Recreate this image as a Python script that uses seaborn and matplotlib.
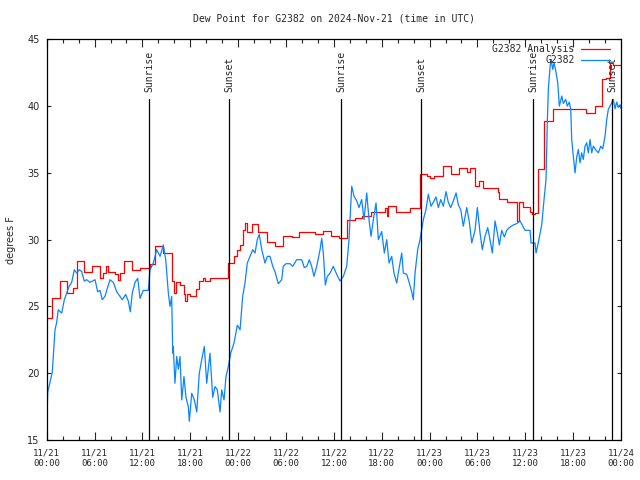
import numpy as np
import pandas as pd
import matplotlib
matplotlib.use("Agg")
import matplotlib.pyplot as plt
import matplotlib.dates as mdates
import seaborn as sns

# hours after 2024-11-21 00:00 UTC, dew point in F
obs_hours = [0.0, 0.13, 0.41, 0.70, 1.04, 1.25, 1.45, 1.88, 2.21, 2.51, 2.80, 3.13, 3.46, 3.76,
             4.09, 4.39, 4.71, 5.01, 5.43, 6.06, 6.39, 6.68, 6.97, 7.31, 7.52, 7.94, 8.35, 8.78,
             9.19, 9.48, 9.90, 10.23, 10.48, 10.73, 11.07, 11.41, 11.70, 12.11, 12.74, 12.95,
             13.37, 13.79, 14.21, 14.62, 14.92, 15.25, 15.46, 15.67, 15.80, 15.87, 16.08, 16.30,
             16.50, 16.71, 16.93, 17.21, 17.46, 17.75, 17.88, 18.18, 18.51, 18.81, 19.13, 19.43,
             19.76, 20.06, 20.47, 20.81, 21.10, 21.39, 21.73, 21.94, 22.23, 22.48, 22.77, 23.07,
             23.48, 23.90, 24.24, 24.57, 24.86, 25.15, 25.49, 25.83, 26.12, 26.40, 26.65, 26.96,
             27.37, 27.66, 28.00, 28.34, 28.62, 29.04, 29.46, 29.66, 30.00, 30.50, 30.84, 31.34,
             31.97, 32.30, 32.60, 32.92, 33.22, 33.51, 33.85, 34.27, 34.48, 34.68, 34.93, 35.18,
             35.52, 35.93, 36.36, 36.77, 37.19, 37.61, 37.90, 38.24, 38.53, 38.87, 39.15, 39.49,
             39.78, 40.12, 40.41, 40.66, 40.95, 41.29, 41.58, 42.00, 42.33, 42.63, 42.92, 43.25,
             43.54, 43.88, 44.08, 44.51, 44.71, 45.14, 45.46, 45.76, 45.96, 46.18, 46.51, 46.80,
             47.22, 47.55, 47.84, 48.18, 48.47, 48.81, 49.10, 49.40, 49.73, 50.06, 50.35, 50.65,
             50.98, 51.32, 51.61, 51.91, 52.23, 52.66, 52.99, 53.29, 53.70, 53.99, 54.33, 54.61,
             54.95, 55.29, 55.58, 55.87, 56.21, 56.50, 56.75, 57.05, 57.37, 57.67, 58.00, 58.50,
             58.93, 59.34, 59.97, 60.60, 60.72, 61.22, 61.35, 61.64, 62.06, 62.35, 62.60, 62.77,
             62.89, 63.10, 63.23, 63.44, 63.61, 63.86, 64.07, 64.27, 64.57, 64.77, 65.07, 65.27,
             65.52, 65.70, 65.82, 66.02, 66.24, 66.45, 66.65, 66.86, 67.07, 67.27, 67.49, 67.70,
             67.90, 68.12, 68.33, 68.53, 68.87, 69.16, 69.46, 69.71, 70.00, 70.21, 70.41, 70.63,
             70.84, 71.04, 71.25, 71.46, 71.67, 71.88, 72.00]
obs_values = [16.3, 18.6, 19.3, 20.1, 23.25, 23.8, 24.75, 24.5, 25.5, 26.0, 26.5, 26.8, 27.75, 27.5,
              27.75, 27.6, 26.9, 27.0, 26.8, 27.0, 26.1, 26.2, 25.5, 25.75, 26.2, 27.0, 26.8, 26.1,
              25.75, 25.5, 25.9, 25.4, 24.6, 26.0, 26.8, 27.1, 25.6, 26.2, 26.2, 27.75,
              28.25, 29.25, 28.75, 29.6, 28.5, 26.0, 25.0, 25.75, 21.5, 22.0, 19.25, 21.25,
              20.3, 21.25, 18.0, 19.75, 18.2, 17.5, 16.4, 18.5, 18.0, 17.1, 20.0, 21.0,
              22.0, 19.25, 21.5, 18.2, 19.0, 18.75, 17.1, 18.75, 18.0, 19.75, 20.5, 21.5,
              22.25, 23.6, 23.25, 25.75, 26.75, 28.25, 28.75, 29.25, 29.0, 30.0, 30.4, 29.25,
              28.25, 28.75, 28.75, 28.0, 27.6, 26.7, 27.0, 28.0, 28.2, 28.2, 28.0, 28.5,
              28.5, 27.9, 28.0, 28.5, 28.0, 27.25, 28.0, 29.25, 30.1, 29.0, 26.6, 27.25,
              27.5, 28.0, 27.4, 26.9, 27.25, 28.0, 30.0, 34.0, 33.25, 32.9, 32.4, 33.0,
              31.5, 33.5, 31.5, 30.25, 31.5, 32.75, 30.0, 30.6, 29.0, 30.0, 28.25, 28.75,
              27.5, 26.75, 27.5, 29.0, 27.5, 27.4, 26.75, 26.1, 25.5, 27.5, 29.25, 30.0,
              31.5, 32.25, 33.4, 32.5, 32.8, 33.2, 32.4, 33.0, 32.5, 33.6, 32.8, 32.4,
              32.9, 33.5, 32.6, 32.25, 31.0, 32.4, 31.3, 29.75, 30.7, 32.4, 30.5, 29.25,
              30.25, 30.9, 30.0, 29.0, 31.4, 30.5, 29.6, 30.7, 30.2, 30.7, 30.9, 31.1,
              31.2, 31.4, 30.7, 30.7, 29.75, 29.75, 29.0, 29.8, 31.1, 33.0, 34.5, 39.0,
              41.25, 42.9, 43.5, 42.75, 43.25, 42.5, 41.75, 40.0, 40.75, 40.2, 40.5, 40.0,
              40.3, 39.75, 37.5, 36.25, 35.0, 36.2, 36.75, 35.75, 36.5, 36.0, 37.0, 37.25,
              36.5, 37.5, 36.5, 37.0, 36.7, 36.5, 37.0, 36.8, 37.75, 39.0, 39.75, 40.0,
              40.25, 40.5, 39.8, 40.3, 39.9, 40.1, 39.8]

ana_hours = [0.0, 0.63, 1.67, 2.51, 3.34, 3.76, 4.71, 5.68, 6.68, 7.06, 7.43, 7.69, 8.56, 8.94,
             9.19, 9.69, 10.66, 11.70, 12.95, 13.58, 14.58, 15.77, 15.96, 16.21, 16.71, 17.21,
             17.34, 17.59, 17.97, 18.72, 19.10, 19.60, 19.85, 20.47, 21.60, 22.73, 23.48, 23.86,
             24.23, 24.61, 24.86, 25.11, 25.74, 26.49, 27.62, 28.62, 29.63, 30.76, 31.63, 33.64,
             34.64, 35.65, 36.65, 37.65, 38.65, 39.53, 40.66, 42.41, 42.67, 42.79, 43.79, 44.79,
             45.54, 46.74, 47.68, 48.06, 48.56, 49.69, 50.69, 51.70, 52.70, 53.07, 53.70, 54.20,
             54.70, 56.58, 56.71, 57.71, 58.96, 59.15, 59.72, 60.60, 60.85, 61.22, 61.60, 62.35,
             63.48, 67.62, 68.74, 69.62, 70.12, 70.62, 70.99, 72.00]
ana_values = [24.1, 25.6, 26.9, 26.0, 26.4, 28.4, 27.6, 28.0, 27.1, 27.5, 28.0, 27.6, 27.4, 27.0,
              27.5, 28.4, 27.75, 27.9, 28.2, 29.5, 29.0, 26.9, 26.0, 26.8, 26.6, 25.9,
              25.4, 25.9, 25.75, 26.3, 26.9, 27.1, 26.9, 27.1, 27.15, 28.25, 28.75, 29.25,
              29.6, 30.75, 31.25, 30.6, 31.2, 30.6, 29.8, 29.55, 30.3, 30.2, 30.6, 30.45,
              30.65, 30.3, 30.1, 31.5, 31.6, 31.75, 32.1, 32.4, 31.8, 32.5, 32.05, 32.1,
              32.4, 34.9, 34.75, 34.6, 34.8, 35.55, 34.9, 35.4, 35.1, 35.4, 34.05, 34.4,
              33.9, 33.6, 33.05, 32.8, 31.4, 32.8, 32.45, 32.1, 31.9, 32.0, 35.3, 38.9,
              39.75, 39.45, 40.0, 42.0, 42.1, 43.25, 43.1, 43.1]

sun_hours = [12.86, 22.90, 36.94, 46.97, 61.00, 70.91]
sun_labels = ["Sunrise", "Sunset", "Sunrise", "Sunset", "Sunrise", "Sunset"]

start = pd.Timestamp("2024-11-21 00:00")
obs = pd.DataFrame({"time": start + pd.to_timedelta(obs_hours, unit="h"), "dewpt": obs_values})
ana = pd.DataFrame({"time": start + pd.to_timedelta(ana_hours, unit="h"), "dewpt": ana_values})
sun_times = start + pd.to_timedelta(sun_hours, unit="h")

sns.set_style("ticks")
mono = "DejaVu Sans Mono"

fig = plt.figure(figsize=(6.4, 4.8), dpi=100)
ax = fig.add_axes([46.7 / 640, 40 / 480, (621 - 46.7) / 640, (440 - 39.3) / 480])

sns.lineplot(data=ana, x="time", y="dewpt", ax=ax, color="#ff0000", lw=0.9,
             drawstyle="steps-post", estimator=None, sort=False, label="G2382 Analysis")
sns.lineplot(data=obs, x="time", y="dewpt", ax=ax, color="#0a84ff", lw=0.9,
             estimator=None, sort=False, label="G2382")

for t, lab in zip(sun_times, sun_labels):
    ax.axvline(t, ymin=0, ymax=0.85, color="black", lw=0.9)
    ax.text(t, 0.868, lab, transform=ax.get_xaxis_transform(), rotation=90,
            ha="center", va="bottom", fontsize=7, family=mono)

ax.set_xlim(start, start + pd.Timedelta(hours=72))
ax.set_ylim(15, 45)
ax.set_yticks(range(15, 46, 5))
ax.xaxis.set_major_locator(mdates.HourLocator(byhour=[0, 6, 12, 18]))
ax.xaxis.set_minor_locator(mdates.HourLocator(byhour=range(0, 24, 2)))
ax.xaxis.set_major_formatter(mdates.DateFormatter("%m/%d\n%H:%M"))

ax.tick_params(axis="x", which="major", direction="in", length=5.5, width=0.8,
               top=True, pad=6, labelsize=6.5)
ax.tick_params(axis="x", which="minor", direction="in", length=3, width=0.8, top=True)
ax.tick_params(axis="y", which="major", direction="in", length=3, width=0.8,
               right=True, pad=5, labelsize=7)
for lab in ax.get_xticklabels():
    lab.set_family(mono)
for sp in ax.spines.values():
    sp.set_linewidth(0.9)
    sp.set_color("black")

ax.set_xlabel("")
ax.set_ylabel("degrees F", fontsize=7, labelpad=8)
ax.set_title("Dew Point for G2382 on 2024-Nov-21 (time in UTC)", fontsize=7, family=mono, pad=13)

ax.legend(loc="upper right", bbox_to_anchor=(609.5 / 640, 1 - 44 / 480),
          bbox_transform=fig.transFigure, frameon=False, markerfirst=False,
          prop={"family": mono, "size": 7}, handlelength=2.9, handletextpad=0.7,
          labelspacing=0.15, borderpad=0, borderaxespad=0)

fig.savefig("out.png", dpi=100)
